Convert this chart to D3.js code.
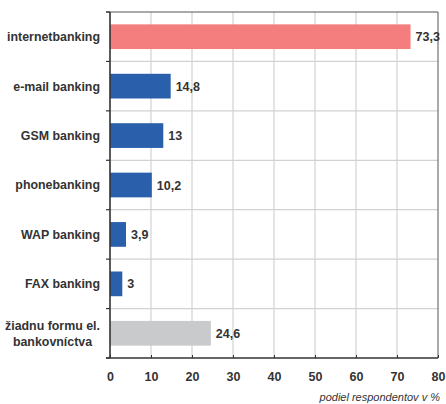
<!DOCTYPE html>
<html>
<head>
<meta charset="utf-8">
<script src="https://cdn.jsdelivr.net/npm/d3@7"></script>
<style>
  html, body { margin: 0; padding: 0; background: #fff; }
  svg { display: block; }
  text { font-family: "Liberation Sans", Arial, sans-serif; fill: #333; }
</style>
</head>
<body>
<svg id="chart" width="446" height="404"></svg>
<script>
// Survey: forms of electronic banking used by respondents (share in %)
const categories = [
  "internetbanking",
  "e-mail banking",
  "GSM banking",
  "phonebanking",
  "WAP banking",
  "FAX banking",
  "žiadnu formu el.|bankovníctva"
];
const values = [73.3, 14.8, 13, 10.2, 3.9, 3, 24.6];
const barColors = ["#F47D7D", "#2A60AB", "#2A60AB", "#2A60AB", "#2A60AB", "#2A60AB", "#C9CACC"];
const xTicks = [0, 10, 20, 30, 40, 50, 60, 70, 80];
const axisTitle = "podiel respondentov v %";

const margin = { left: 110, right: 8, top: 12, bottom: 46 };
const W = 446, H = 404;
const svg = d3.select("#chart");

const x = d3.scaleLinear().domain([0, 80]).range([margin.left, W - margin.right]);
const y = d3.scaleBand().domain(categories).range([margin.top, H - margin.bottom]).paddingInner(0).paddingOuter(0);
const barH = y.bandwidth() * 0.5;

const x0 = x(0), x1 = x(80), y0 = margin.top, y1 = H - margin.bottom;

// grid
const grid = svg.append("g");
grid.selectAll("line.v").data(xTicks.filter(t => t > 0 && t < 80)).join("line")
  .attr("x1", d => x(d)).attr("x2", d => x(d))
  .attr("y1", y0).attr("y2", y1)
  .attr("stroke", "#d2d2d2").attr("stroke-width", 1.2);
grid.selectAll("line.h").data(categories.slice(1)).join("line")
  .attr("x1", x0).attr("x2", x1)
  .attr("y1", d => y(d)).attr("y2", d => y(d))
  .attr("stroke", "#d2d2d2").attr("stroke-width", 1.2);

// frame top / right
svg.append("line").attr("x1", x0 - 4).attr("x2", x1).attr("y1", y0).attr("y2", y0)
  .attr("stroke", "#555").attr("stroke-width", 1);
svg.append("line").attr("x1", x1).attr("x2", x1).attr("y1", y0).attr("y2", y1)
  .attr("stroke", "#555").attr("stroke-width", 1);

// bars
svg.append("g").selectAll("rect").data(values).join("rect")
  .attr("x", x0)
  .attr("y", (d, i) => y(categories[i]) + (y.bandwidth() - barH) / 2)
  .attr("width", d => x(d) - x0)
  .attr("height", barH)
  .attr("fill", (d, i) => barColors[i]);

// value labels
svg.append("g").selectAll("text").data(values).join("text")
  .attr("x", d => x(d) + 5)
  .attr("y", (d, i) => y(categories[i]) + y.bandwidth() / 2)
  .attr("dy", "0.36em")
  .attr("font-size", 12.5).attr("font-weight", "bold")
  .text(d => String(d).replace(".", ","));

// bottom axis
const xAxis = d3.axisBottom(x).tickValues(xTicks).tickSize(-3).tickPadding(14).tickFormat(d3.format("d"));
const gx = svg.append("g").attr("transform", `translate(0,${y1})`).call(xAxis);
gx.select(".domain").remove();
gx.selectAll(".tick line").attr("stroke", "#333").attr("stroke-width", 1);
gx.selectAll(".tick text").attr("font-size", 12.5).attr("font-weight", "bold")
  .attr("fill", "#333").attr("font-family", "Liberation Sans, Arial, sans-serif");
svg.append("line").attr("x1", x0 - 4).attr("x2", x1).attr("y1", y1).attr("y2", y1)
  .attr("stroke", "#333").attr("stroke-width", 1.6);

// left axis with ticks at band boundaries
const bounds = categories.map(c => y(c)).concat([y1]);
svg.append("g").selectAll("line").data(bounds).join("line")
  .attr("x1", x0 - 4).attr("x2", x0).attr("y1", d => d).attr("y2", d => d)
  .attr("stroke", "#333").attr("stroke-width", 1.2);
svg.append("line").attr("x1", x0).attr("x2", x0).attr("y1", y0).attr("y2", y1)
  .attr("stroke", "#333").attr("stroke-width", 1.6);

// category labels
const labelRight = x0 - 10;
categories.forEach(c => {
  const lines = c.split("|");
  const cy = y(c) + y.bandwidth() / 2;
  const g = svg.append("g");
  const texts = lines.map((ln, i) => g.append("text")
    .attr("y", cy + (i - (lines.length - 1) / 2) * 16)
    .attr("dy", "0.36em")
    .attr("font-size", 12.4).attr("font-weight", "bold")
    .text(ln));
  if (lines.length === 1) {
    texts[0].attr("x", labelRight).attr("text-anchor", "end");
  } else {
    const maxW = d3.max(texts, t => t.node().getComputedTextLength());
    texts.forEach(t => t.attr("x", labelRight - maxW / 2).attr("text-anchor", "middle"));
  }
});

// axis title
svg.append("text")
  .attr("x", x1 + 2).attr("y", 400.5)
  .attr("text-anchor", "end")
  .attr("font-size", 11).attr("font-style", "italic")
  .text(axisTitle);
</script>
</body>
</html>
